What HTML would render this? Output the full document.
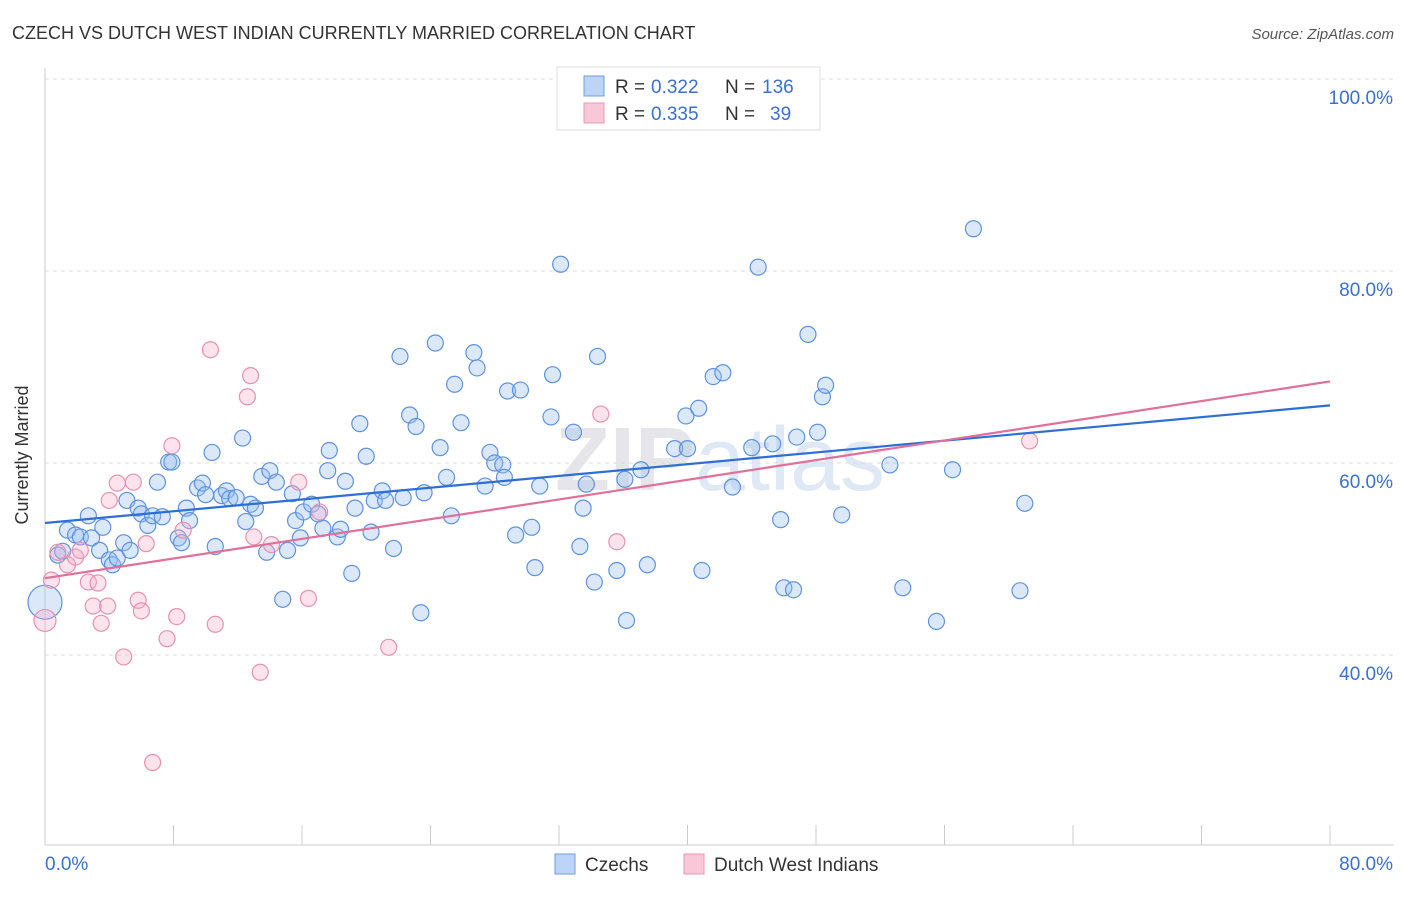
<!DOCTYPE html>
<html><head><meta charset="utf-8">
<style>
body{margin:0;background:#fff;font-family:"Liberation Sans",sans-serif;}
svg text{font-family:"Liberation Sans",sans-serif;}
</style></head>
<body>
<svg id="chart" width="1406" height="892" viewBox="0 0 1406 892" xmlns="http://www.w3.org/2000/svg">
<text x="12" y="39" font-size="18" fill="#333">CZECH VS DUTCH WEST INDIAN CURRENTLY MARRIED CORRELATION CHART</text>
<text x="1394" y="39" font-size="15" fill="#555" font-style="italic" text-anchor="end">Source: ZipAtlas.com</text>
<text x="720" y="490" font-size="90" fill="#e6e6ea" text-anchor="middle" font-weight="bold">ZIP<tspan font-weight="normal" fill="#dfe8f5">atlas</tspan></text>
<g id="grid"></g>
<g id="axes"></g>
<g id="pts"></g>
<g id="trends"></g>
<text x="28" y="455" font-size="18" fill="#333" text-anchor="middle" transform="rotate(-90 28 455)">Currently Married</text>
<g>
<rect x="557" y="67" width="263" height="63" fill="#fff" stroke="#ddd"/>
<rect x="584" y="76" width="20" height="20" fill="#bcd4f6" stroke="#6f9de0"/>
<rect x="584" y="103" width="20" height="20" fill="#f8c8d8" stroke="#e897b4"/>
<text x="615" y="93" font-size="19" fill="#333">R =</text>
<text x="651" y="93" font-size="19" fill="#3a70d0">0.322</text>
<text x="725" y="93" font-size="19" fill="#333">N =</text>
<text x="762" y="93" font-size="19" fill="#3a70d0">136</text>
<text x="615" y="120" font-size="19" fill="#333">R =</text>
<text x="651" y="120" font-size="19" fill="#3a70d0">0.335</text>
<text x="725" y="120" font-size="19" fill="#333">N =</text>
<text x="770" y="120" font-size="19" fill="#3a70d0">39</text>
</g>
<g>
<rect x="555" y="854" width="20" height="20" fill="#bcd4f6" stroke="#6f9de0"/>
<text x="585" y="871" font-size="19" fill="#333">Czechs</text>
<rect x="684" y="854" width="20" height="20" fill="#f8c8d8" stroke="#e897b4"/>
<text x="714" y="871" font-size="19" fill="#333">Dutch West Indians</text>
</g>
</svg>
<script>
const yTicks=[40,60,80,100];
const yTickLabels=["40.0%","60.0%","80.0%","100.0%"];
const xTicks=[0,8,16,24,32,40,48,56,64,72,80];
const czechX=[0,0.8,1.1,1.4,1.9,2.2,2.7,2.9,3.4,3.6,4.0,4.2,4.5,4.9,5.1,5.3,5.8,6.0,6.4,6.7,7.0,7.3,7.7,7.9,8.3,8.5,8.8,9.0,9.5,9.8,10.0,10.4,10.6,11.0,11.3,11.5,11.9,12.3,12.5,12.8,13.1,13.5,13.8,14.0,14.4,14.8,15.1,15.4,15.6,15.9,16.1,16.6,17.0,17.3,17.6,17.7,18.2,18.4,18.7,19.1,19.3,19.6,20.0,20.3,20.5,21.0,21.2,21.7,22.1,22.3,22.7,23.1,23.4,23.6,24.3,24.6,25.0,25.3,25.5,25.9,26.7,26.9,27.4,27.7,28.0,28.5,28.6,28.8,29.3,29.6,30.3,30.5,30.8,31.5,31.6,32.1,32.9,33.3,33.5,33.7,34.2,34.4,35.6,36.1,36.2,37.1,37.5,39.2,39.9,40.0,40.7,40.9,41.6,42.2,42.8,44.0,44.4,45.3,45.8,46.0,46.6,46.8,47.5,48.1,48.4,48.6,49.6,52.6,53.4,55.5,56.5,57.8,60.7,61.0];
const czechY=[45.5,50.4,50.8,53.0,52.5,52.3,54.5,52.2,50.9,53.3,49.9,49.4,50.1,51.7,56.1,50.9,55.3,54.7,53.5,54.5,58.0,54.4,60.1,60.1,52.2,51.7,55.3,54.0,57.4,57.9,56.7,61.1,51.3,56.6,57.1,56.3,56.4,62.6,53.9,55.7,55.3,58.6,50.7,59.2,58.0,45.8,50.9,56.8,54.0,52.2,54.9,55.7,54.7,53.2,59.2,61.3,52.3,53.1,58.1,48.5,55.3,64.1,60.7,52.8,56.1,57.1,56.1,51.1,71.1,56.4,65.0,63.8,44.4,56.9,72.5,61.6,58.5,54.5,68.2,64.2,71.5,69.9,57.6,61.1,60.0,59.8,58.5,67.5,52.5,67.6,53.3,49.1,57.6,64.8,69.2,80.7,63.2,51.3,55.3,57.8,47.6,71.1,48.8,58.3,43.6,59.3,49.4,61.5,64.9,61.5,65.7,48.8,69.0,69.4,57.5,61.6,80.4,62.0,54.1,47.0,46.8,62.7,73.4,63.2,66.9,68.1,54.6,59.8,47.0,43.5,59.3,84.4,46.7,55.8];
const dwiX=[0,0.4,0.8,1.4,1.9,2.2,2.7,3.0,3.3,3.5,3.9,4.0,4.5,4.9,5.5,5.8,6.0,6.3,6.7,7.6,7.9,8.2,8.6,10.3,10.6,12.6,12.8,13.0,13.4,14.1,15.8,16.4,17.1,21.4,34.6,35.6,61.3];
const dwiY=[43.6,47.8,50.7,49.4,50.2,50.9,47.6,45.1,47.5,43.3,45.1,56.1,57.9,39.8,58.0,45.7,44.6,51.6,28.8,41.7,61.8,44.0,53.0,71.8,43.2,66.9,69.1,52.3,38.2,51.5,58.0,45.9,54.9,40.8,65.1,51.8,62.3];
const czechTrend=[53.75,66.0];
const dwiTrend=[48.0,68.5];

const NS="http://www.w3.org/2000/svg";
const X0=45,X1=1330,YT=79;
const xs=v=>X0+(X1-X0)*v/80;
const ys=v=>YT+(100-v)*9.6;
function mk(tag,attrs,parent){const e=document.createElementNS(NS,tag);for(const k in attrs)e.setAttribute(k,attrs[k]);parent.appendChild(e);return e;}
const grid=document.getElementById('grid'),axes=document.getElementById('axes'),pts=document.getElementById('pts'),tr=document.getElementById('trends');
yTicks.forEach((t,i)=>{
  const l=mk('line',{x1:X0,x2:1394,y1:ys(t),y2:ys(t),stroke:'#dcdcdc','stroke-dasharray':'4,4'},grid);
  
  
  const tx=mk('text',{x:1393,y:ys(t)+25,'font-size':19,fill:'#3a70d0','text-anchor':'end'},axes);
  tx.textContent=yTickLabels[i];
  
  
});
const ax=mk('line',{x1:X0,x2:1394,y1:845,y2:845,stroke:'#ccc'},axes);


const ay=mk('line',{x1:X0,x2:X0,y1:68,y2:845,stroke:'#ccc'},axes);


xTicks.forEach(t=>{
  const l=mk('line',{x1:xs(t),x2:xs(t),y1:825,y2:845,stroke:'#ccc'},axes);
  
  
});
const xl0=mk('text',{x:45,y:870,'font-size':19,fill:'#3a70d0'},axes);xl0.textContent='0.0%';


const xl1=mk('text',{x:1393,y:870,'font-size':19,fill:'#3a70d0','text-anchor':'end'},axes);xl1.textContent='80.0%';


czechX.forEach((x,i)=>{
  const c=mk('circle',{cx:xs(x),cy:ys(czechY[i]),r:i===0?17:8,fill:'rgba(150,190,240,0.35)',stroke:'#5e92de','stroke-width':1.2},pts);
  
  
});
dwiX.forEach((x,i)=>{
  const c=mk('circle',{cx:xs(x),cy:ys(dwiY[i]),r:i===0?11:8,fill:'rgba(245,175,200,0.35)',stroke:'#e890b0','stroke-width':1.2},pts);
  
  
});
const l1=mk('line',{x1:xs(0),y1:ys(czechTrend[0]),x2:xs(80),y2:ys(czechTrend[1]),stroke:'#2e6fd6','stroke-width':2.2},tr);


const l2=mk('line',{x1:xs(0),y1:ys(dwiTrend[0]),x2:xs(80),y2:ys(dwiTrend[1]),stroke:'#e0709a','stroke-width':2.2},tr);


</script>
</body></html>
